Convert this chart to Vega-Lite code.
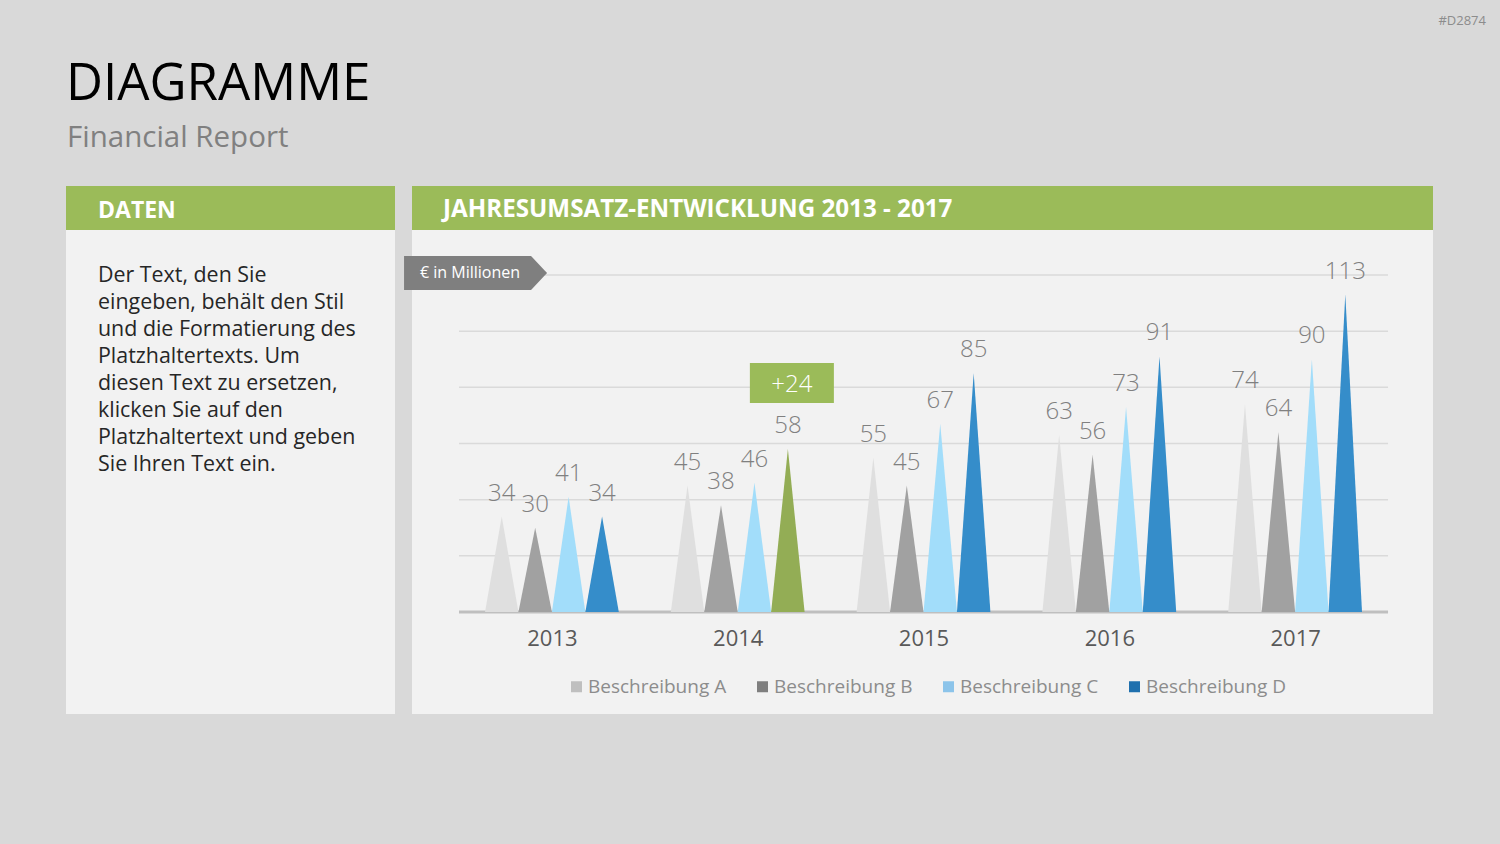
{
  "$schema": "https://vega.github.io/schema/vega-lite/v6.json",
  "background": "#d9d9d9",
  "padding": {"left": 66, "top": 0, "right": 14, "bottom": 130},
  "config": {
    "font": "Open Sans",
    "view": {"stroke": null},
    "axisY": {"disable": true},
    "axisX": {
      "offset": -102,
      "domain": false,
      "ticks": false,
      "grid": false,
      "labelFontSize": 22,
      "labelColor": "#595959",
      "labelPadding": 16,
      "labelFont": "Open Sans"
    }
  },
  "datasets": {
    "sales": [
      {"year": 2013, "series": "Beschreibung A", "value": 34},
      {"year": 2013, "series": "Beschreibung B", "value": 30},
      {"year": 2013, "series": "Beschreibung C", "value": 41},
      {"year": 2013, "series": "Beschreibung D", "value": 34},
      {"year": 2014, "series": "Beschreibung A", "value": 45},
      {"year": 2014, "series": "Beschreibung B", "value": 38},
      {"year": 2014, "series": "Beschreibung C", "value": 46},
      {"year": 2014, "series": "Beschreibung D", "value": 58},
      {"year": 2015, "series": "Beschreibung A", "value": 55},
      {"year": 2015, "series": "Beschreibung B", "value": 45},
      {"year": 2015, "series": "Beschreibung C", "value": 67},
      {"year": 2015, "series": "Beschreibung D", "value": 85},
      {"year": 2016, "series": "Beschreibung A", "value": 63},
      {"year": 2016, "series": "Beschreibung B", "value": 56},
      {"year": 2016, "series": "Beschreibung C", "value": 73},
      {"year": 2016, "series": "Beschreibung D", "value": 91},
      {"year": 2017, "series": "Beschreibung A", "value": 74},
      {"year": 2017, "series": "Beschreibung B", "value": 64},
      {"year": 2017, "series": "Beschreibung C", "value": 90},
      {"year": 2017, "series": "Beschreibung D", "value": 113}
    ],
    "gridlines": [
      {"tick": 20}, {"tick": 40}, {"tick": 60}, {"tick": 80}, {"tick": 100}, {"tick": 120}
    ]
  },
  "spacing": 0,
  "vconcat": [
    {
      "width": 1420,
      "height": 186,
      "data": {"values": [{}]},
      "layer": [
        {"mark": {"type": "text", "text": "DIAGRAMME", "x": 0, "y": 100, "align": "left", "baseline": "alphabetic", "fontSize": 51, "color": "#000000"}},
        {"mark": {"type": "text", "text": "Financial Report", "x": 1, "y": 147, "align": "left", "baseline": "alphabetic", "fontSize": 29.5, "color": "#808080"}},
        {"mark": {"type": "text", "text": "#D2874", "x": 1420, "y": 25, "align": "right", "baseline": "alphabetic", "fontSize": 13, "color": "#8c8c8c"}}
      ]
    },
    {
      "spacing": 9,
      "hconcat": [
        {
          "spacing": 0,
          "bounds": "flush",
          "vconcat": [
            {
              "width": 329,
              "height": 44,
              "view": {"fill": "#9bbb59", "stroke": null},
              "data": {"values": [{}]},
              "mark": {"type": "text", "text": "DATEN", "x": 32, "y": 32, "align": "left", "baseline": "alphabetic", "fontSize": 23, "fontWeight": "bold", "color": "#ffffff"}
            },
            {
              "width": 329,
              "height": 484,
              "view": {"fill": "#f2f2f2", "stroke": null},
              "data": {"values": [{}]},
              "mark": {
                "type": "text",
                "text": [
                  "Der Text, den Sie",
                  "eingeben, behält den Stil",
                  "und die Formatierung des",
                  "Platzhaltertexts. Um",
                  "diesen Text zu ersetzen,",
                  "klicken Sie auf den",
                  "Platzhaltertext und geben",
                  "Sie Ihren Text ein."
                ],
                "x": 32,
                "y": 52,
                "align": "left",
                "baseline": "alphabetic",
                "fontSize": 21.4,
                "lineHeight": 27,
                "color": "#262626"
              }
            }
          ]
        },
        {
          "spacing": 0,
          "bounds": "flush",
          "vconcat": [
            {
              "width": 1021,
              "height": 44,
              "view": {"fill": "#9bbb59", "stroke": null},
              "data": {"values": [{}]},
              "mark": {"type": "text", "text": "JAHRESUMSATZ-ENTWICKLUNG 2013 - 2017", "x": 31, "y": 31, "align": "left", "baseline": "alphabetic", "fontSize": 24.2, "fontWeight": "bold", "color": "#ffffff"}
            },
            {
              "width": 1021,
              "height": 484,
              "view": {"fill": "#f2f2f2", "stroke": null},
              "data": {"name": "sales"},
              "transform": [
                {
                  "calculate": "datum.year + (indexof(['Beschreibung A','Beschreibung B','Beschreibung C','Beschreibung D'], datum.series) - 1.5) * 0.18",
                  "as": "center"
                }
              ],
              "layer": [
                {
                  "data": {"name": "gridlines"},
                  "mark": {"type": "rule", "color": "#dadada", "strokeWidth": 1.5},
                  "encoding": {
                    "x": {"datum": 2012.5, "type": "quantitative", "scale": {"domain": [2012.247, 2017.742], "nice": false, "zero": false}},
                    "x2": {"datum": 2017.5},
                    "y": {"field": "tick", "type": "quantitative", "title": null, "scale": {"domain": [-36.3, 136], "nice": false, "zero": false}}
                  }
                },
                {
                  "data": {"values": [{}]},
                  "mark": {"type": "rule", "color": "#bfbfbf", "strokeWidth": 3},
                  "encoding": {
                    "x": {"datum": 2012.5, "type": "quantitative"},
                    "x2": {"datum": 2017.5},
                    "y": {"datum": 0, "type": "quantitative"}
                  }
                },
                {
                  "transform": [
                    {"calculate": "[0, 1, 2]", "as": "vert"},
                    {"flatten": ["vert"]},
                    {"calculate": "datum.center + (datum.vert - 1) * 0.09", "as": "px"},
                    {"calculate": "datum.vert === 1 ? datum.value : 0", "as": "py"}
                  ],
                  "mark": {"type": "area", "interpolate": "linear"},
                  "encoding": {
                    "x": {
                      "field": "px",
                      "type": "quantitative",
                      "title": null,
                      "axis": {"values": [2013, 2014, 2015, 2016, 2017], "format": "d", "title": null}
                    },
                    "y": {"field": "py", "type": "quantitative", "stack": null, "title": null},
                    "detail": {"field": "year"},
                    "color": {
                      "condition": {"test": "datum.year === 2014 && datum.series === 'Beschreibung D'", "value": "#93ad55"},
                      "field": "series",
                      "type": "nominal",
                      "scale": {"domain": ["Beschreibung A", "Beschreibung B", "Beschreibung C", "Beschreibung D"], "range": ["#dfdfdf", "#a1a1a1", "#a2ddfa", "#358dca"]},
                      "legend": null
                    }
                  }
                },
                {
                  "mark": {"type": "text", "dy": -23, "fontSize": 24, "fontWeight": 300, "color": "#808080", "baseline": "middle"},
                  "encoding": {
                    "x": {"field": "center", "type": "quantitative", "title": null},
                    "y": {"field": "value", "type": "quantitative", "title": null},
                    "text": {"field": "value", "type": "quantitative"}
                  }
                },
                {
                  "mark": {"type": "square", "opacity": 0},
                  "encoding": {
                    "x": {"field": "center", "type": "quantitative", "title": null},
                    "y": {"field": "value", "type": "quantitative", "title": null},
                    "color": {
                      "field": "series",
                      "type": "nominal",
                      "scale": {"domain": ["Beschreibung A", "Beschreibung B", "Beschreibung C", "Beschreibung D"], "range": ["#bfbfbf", "#7f7f7f", "#8cc4ea", "#1f70ae"]},
                      "legend": {
                        "orient": "none",
                        "legendX": 155,
                        "legendY": 447,
                        "direction": "horizontal",
                        "title": null,
                        "symbolType": "square",
                        "symbolSize": 121,
                        "symbolOpacity": 1,
                        "symbolStrokeWidth": 0,
                        "labelFontSize": 19,
                        "labelColor": "#8c8c8c",
                        "labelFont": "Open Sans",
                        "labelOffset": 2,
                        "columnPadding": 26
                      }
                    }
                  }
                },
                {
                  "data": {"values": [{}]},
                  "mark": {"type": "point", "shape": "M-1,-0.238L0.776,-0.238L1,0L0.776,0.238L-1,0.238Z", "size": 20449, "filled": true, "color": "#7f7f7f", "opacity": 1, "strokeWidth": 0},
                  "encoding": {
                    "x": {"datum": 2012.589, "type": "quantitative"},
                    "y": {"datum": 120.7, "type": "quantitative"}
                  }
                },
                {
                  "data": {"values": [{}]},
                  "mark": {"type": "text", "text": "€ in Millionen", "align": "left", "baseline": "middle", "fontSize": 16, "color": "#ffffff"},
                  "encoding": {
                    "x": {"datum": 2012.29, "type": "quantitative"},
                    "y": {"datum": 120.7, "type": "quantitative"}
                  }
                },
                {
                  "transform": [{"filter": "datum.year === 2014 && datum.series === 'Beschreibung D'"}],
                  "mark": {"type": "point", "shape": "M-1,-0.476L1,-0.476L1,0.476L-1,0.476Z", "size": 7056, "filled": true, "color": "#9bbb59", "opacity": 1, "strokeWidth": 0, "xOffset": 4, "yOffset": -66},
                  "encoding": {
                    "x": {"field": "center", "type": "quantitative", "title": null},
                    "y": {"field": "value", "type": "quantitative", "title": null}
                  }
                },
                {
                  "transform": [{"filter": "datum.year === 2014 && datum.series === 'Beschreibung D'"}],
                  "mark": {"type": "text", "text": "+24", "fontSize": 24, "fontWeight": 300, "color": "#ffffff", "baseline": "middle", "xOffset": 4, "yOffset": -64},
                  "encoding": {
                    "x": {"field": "center", "type": "quantitative", "title": null},
                    "y": {"field": "value", "type": "quantitative", "title": null}
                  }
                }
              ],
              "resolve": {"scale": {"color": "independent"}}
            }
          ]
        }
      ]
    }
  ]
}
